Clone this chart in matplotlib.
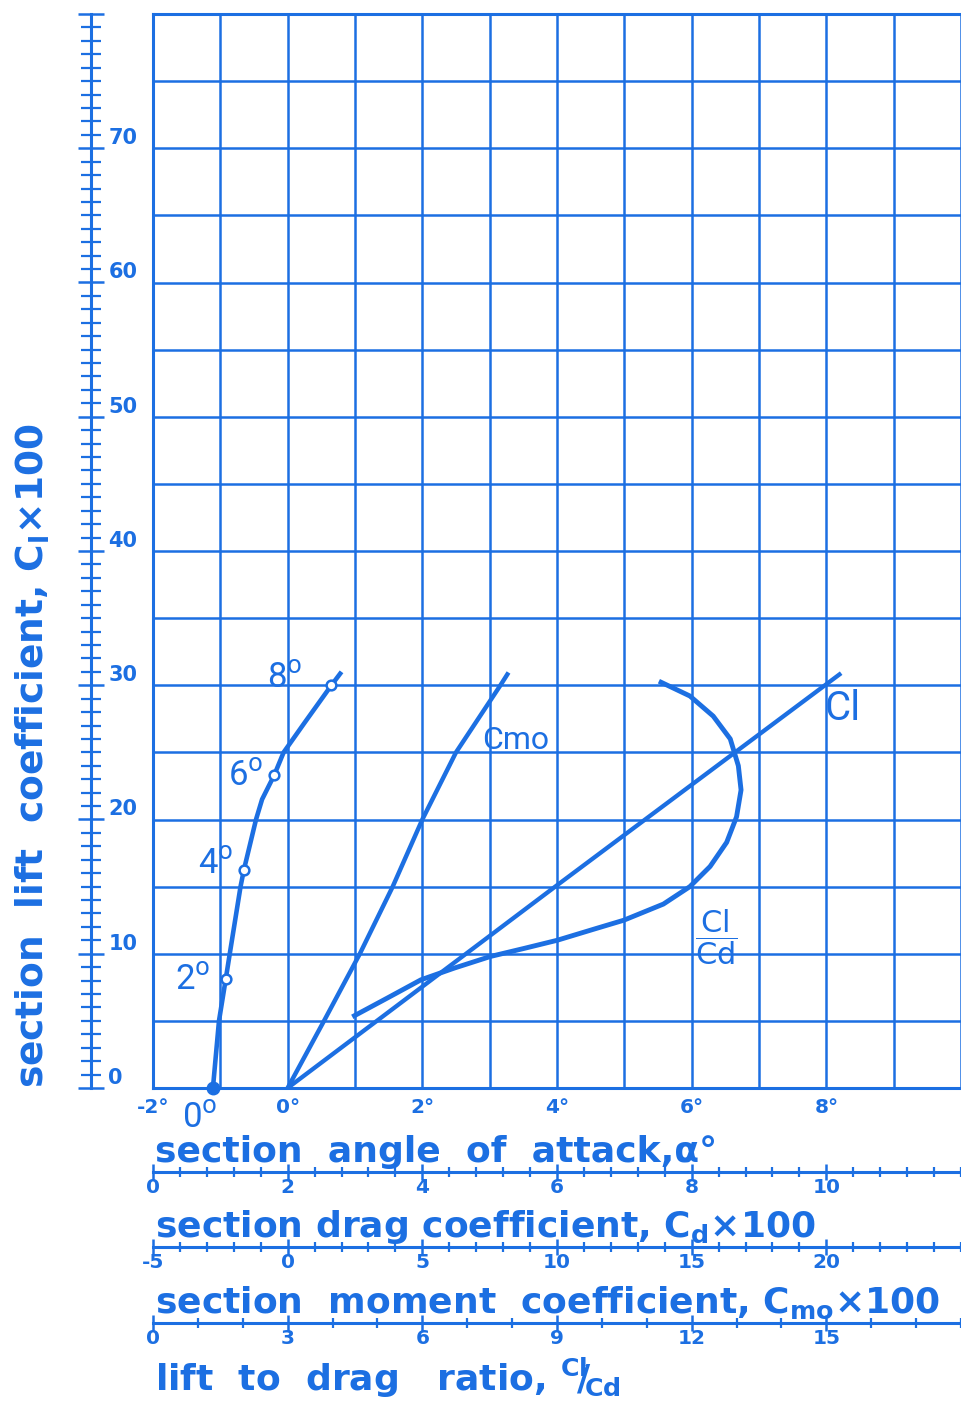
import matplotlib
matplotlib.use('Agg')
import matplotlib.pyplot as plt
from matplotlib.ticker import MultipleLocator, FuncFormatter

BLUE = '#1c6fe2'
HAND = ['Roboto', 'DejaVu Sans']

# angle of attack labels on the grid (degrees)
alpha_labels = [-2, 0, 2, 4, 6, 8]

# lift coefficient (Cl x 100) against angle of attack
cl_alpha = [0, 4.0, 8.22]
cl_line = [0, 15.1, 30.9]

# drag polar, Cd x 100 against Cl x 100
cd_curve = [0.89, 0.98, 1.08, 1.14, 1.30, 1.35, 1.53, 1.62, 1.80, 1.94,
            2.25, 2.45, 2.65, 2.80]
cl_cd_curve = [0, 5, 8.1, 10, 15, 16.25, 20, 21.5, 23.3, 25,
               27.2, 28.6, 30.0, 31.0]
# measured points on the polar and their angle of attack
cd_points = [0.89, 1.08, 1.35, 1.80, 2.65]
cl_points = [0, 8.1, 16.25, 23.3, 30.0]
point_alpha = [0, 2, 4, 6, 8]

# moment coefficient, Cmo x 100 against Cl x 100
cmo_curve = [0, 1.35, 2.68, 3.9, 5.0, 6.25, 7.9, 8.2]
cl_cmo_curve = [0, 5, 10, 15, 20, 25, 30, 30.95]

# lift to drag ratio against Cl x 100
ld_curve = [4.44, 5.22, 5.97, 6.71, 7.52, 8.27, 9.0, 9.89, 10.49, 11.37,
            11.96, 12.41, 12.78, 13.0, 13.1, 13.04, 12.86, 12.48, 11.96, 11.27]
cl_ld_curve = [5.3, 6.7, 8.06, 8.93, 9.8, 10.4, 11.0, 11.9, 12.5, 13.7,
               15.0, 16.5, 18.3, 20.2, 22.2, 24.0, 26.0, 27.7, 29.2, 30.3]

# scale labels
cl_ticks = [0, 10, 20, 30, 40, 50, 60, 70]
cd_ticks = [0, 2, 4, 6, 8, 10]
cmo_ticks = [-5, 0, 5, 10, 15, 20]
ld_ticks = [0, 3, 6, 9, 12, 15]

plt.rcParams['font.family'] = ['DejaVu Sans']
plt.rcParams['text.color'] = BLUE
plt.rcParams['axes.labelcolor'] = BLUE
plt.rcParams['axes.labelweight'] = 'bold'
plt.rcParams['axes.edgecolor'] = BLUE
plt.rcParams['xtick.color'] = BLUE
plt.rcParams['ytick.color'] = BLUE
plt.rcParams['lines.solid_joinstyle'] = 'round'

W, H = 961, 1404
x0, x1, y0, y1 = 153, 961, 14, 1088
fig = plt.figure(figsize=(W / 100, H / 100), dpi=100)
ax = fig.add_axes([x0 / W, 1 - y1 / H, (x1 - x0) / W, (y1 - y0) / H])
ax.set_xlim(-2, 10)
ax.set_ylim(0, 80)
ax.xaxis.set_major_locator(MultipleLocator(1))
ax.yaxis.set_major_locator(MultipleLocator(5))
ax.xaxis.set_major_formatter(FuncFormatter(
    lambda v, p: f'{int(round(v))}°' if int(round(v)) in alpha_labels else ''))
ax.tick_params(length=0, pad=7, labelsize=14.5)
ax.tick_params(axis='y', labelleft=False)
plt.setp(ax.get_xticklabels(), fontweight='bold')
ax.grid(True, color=BLUE, lw=1.8)
ax.spines['right'].set_visible(False)
for s in ['left', 'top', 'bottom']:
    ax.spines[s].set_linewidth(2.2)

ax.set_xlabel('section  angle  of  attack,α°', loc='left', fontsize=26)
ax.xaxis.set_label_coords(0.002, -0.044)
ax.set_ylabel(r'section  lift  coefficient, C$_{\mathbf{l}}$×100', loc='bottom', fontsize=27)
ax.yaxis.set_label_coords(-0.125, 0.0)

# lift scale on the left
ax_l = ax.twinx()
ax_l.set_ylim(0, 80)
for s in ['top', 'bottom', 'left']:
    ax_l.spines[s].set_visible(False)
ax_l.spines['right'].set_position(('axes', (91 - x0) / (x1 - x0)))
ax_l.spines['right'].set_linewidth(2.2)
ax_l.set_yticks(cl_ticks + [80], labels=[str(v) for v in cl_ticks] + [''],
                fontweight='bold', va='bottom')
ax_l.yaxis.set_minor_locator(MultipleLocator(1))
ax_l.tick_params(axis='y', which='major', direction='inout', length=19, width=1.8,
                 pad=3, labelsize=15)
ax_l.tick_params(axis='y', which='minor', direction='inout', length=15, width=1.6)


def ruler(lim, offset_px, ticks, minor, label, label_y):
    r = ax.twiny()
    r.set_xlim(*lim)
    for s in ['top', 'left', 'right']:
        r.spines[s].set_visible(False)
    r.xaxis.set_ticks_position('bottom')
    r.xaxis.set_label_position('bottom')
    r.spines['bottom'].set_position(('outward', offset_px * 0.72))
    r.spines['bottom'].set_linewidth(2.2)
    r.set_xticks(ticks, labels=[str(v) for v in ticks], fontweight='bold')
    r.xaxis.set_minor_locator(MultipleLocator(minor))
    r.tick_params(axis='x', which='major', direction='inout', length=12, width=1.8,
                  pad=-1.8, labelsize=14.5)
    r.tick_params(axis='x', which='minor', direction='inout', length=7.5, width=1.6)
    r.set_xlabel(label, loc='left', fontsize=26)
    r.xaxis.set_label_coords(0.002, label_y)
    return r


ax_cd = ruler((0, 12), 84, cd_ticks, 0.4,
              r'section drag coefficient, C$_{\mathbf{d}}$×100', -0.112)
ax_cm = ruler((-5, 25), 159, cmo_ticks, 1,
              r'section  moment  coefficient, C$_{\mathbf{mo}}$×100', -0.183)
ax_ld = ruler((0, 18), 235, ld_ticks, 1,
              r'lift  to  drag   ratio, $\mathbf{^{Cl}\!\!/\!_{Cd}}$', -0.249)

# curves
ax.plot(cl_alpha, cl_line, color=BLUE, lw=3.1, solid_capstyle='butt')
ax_cm.plot(cmo_curve, cl_cmo_curve, color=BLUE, lw=3.2, solid_capstyle='butt')
ax_ld.plot(ld_curve, cl_ld_curve, color=BLUE, lw=3.5, solid_capstyle='butt')
ax_cd.plot(cd_curve, cl_cd_curve, color=BLUE, lw=3.3, solid_capstyle='butt')
ax_cd.plot(cd_points[1:], cl_points[1:], 'o', ms=7, mfc='white', mec=BLUE, mew=1.8)
ax_cd.plot(cd_points[:1], cl_points[:1], 'o', ms=9, color=BLUE, clip_on=False)

# angle of attack beside the polar points
label_pos = [(0.69, -2.2), (0.59, 8.1), (0.93, 16.7), (1.37, 23.3), (1.96, 30.6)]
for (lx, ly), a in zip(label_pos, point_alpha):
    ax_cd.text(lx, ly, f'{a}' + r'$^{\mathrm{o}}$', ha='center', va='center',
               fontsize=25, family=HAND)

ax.text(7.97, 28.3, 'Cl', ha='left', va='center', fontsize=29, family=HAND)
ax.text(2.89, 25.9, 'Cmo', ha='left', va='center', fontsize=23, family=HAND)
ax.text(6.36, 11.2, r'$\dfrac{\mathrm{Cl}}{\mathrm{Cd}}$', ha='center', va='center',
        fontsize=22)

fig.savefig('out.png', dpi=100)
